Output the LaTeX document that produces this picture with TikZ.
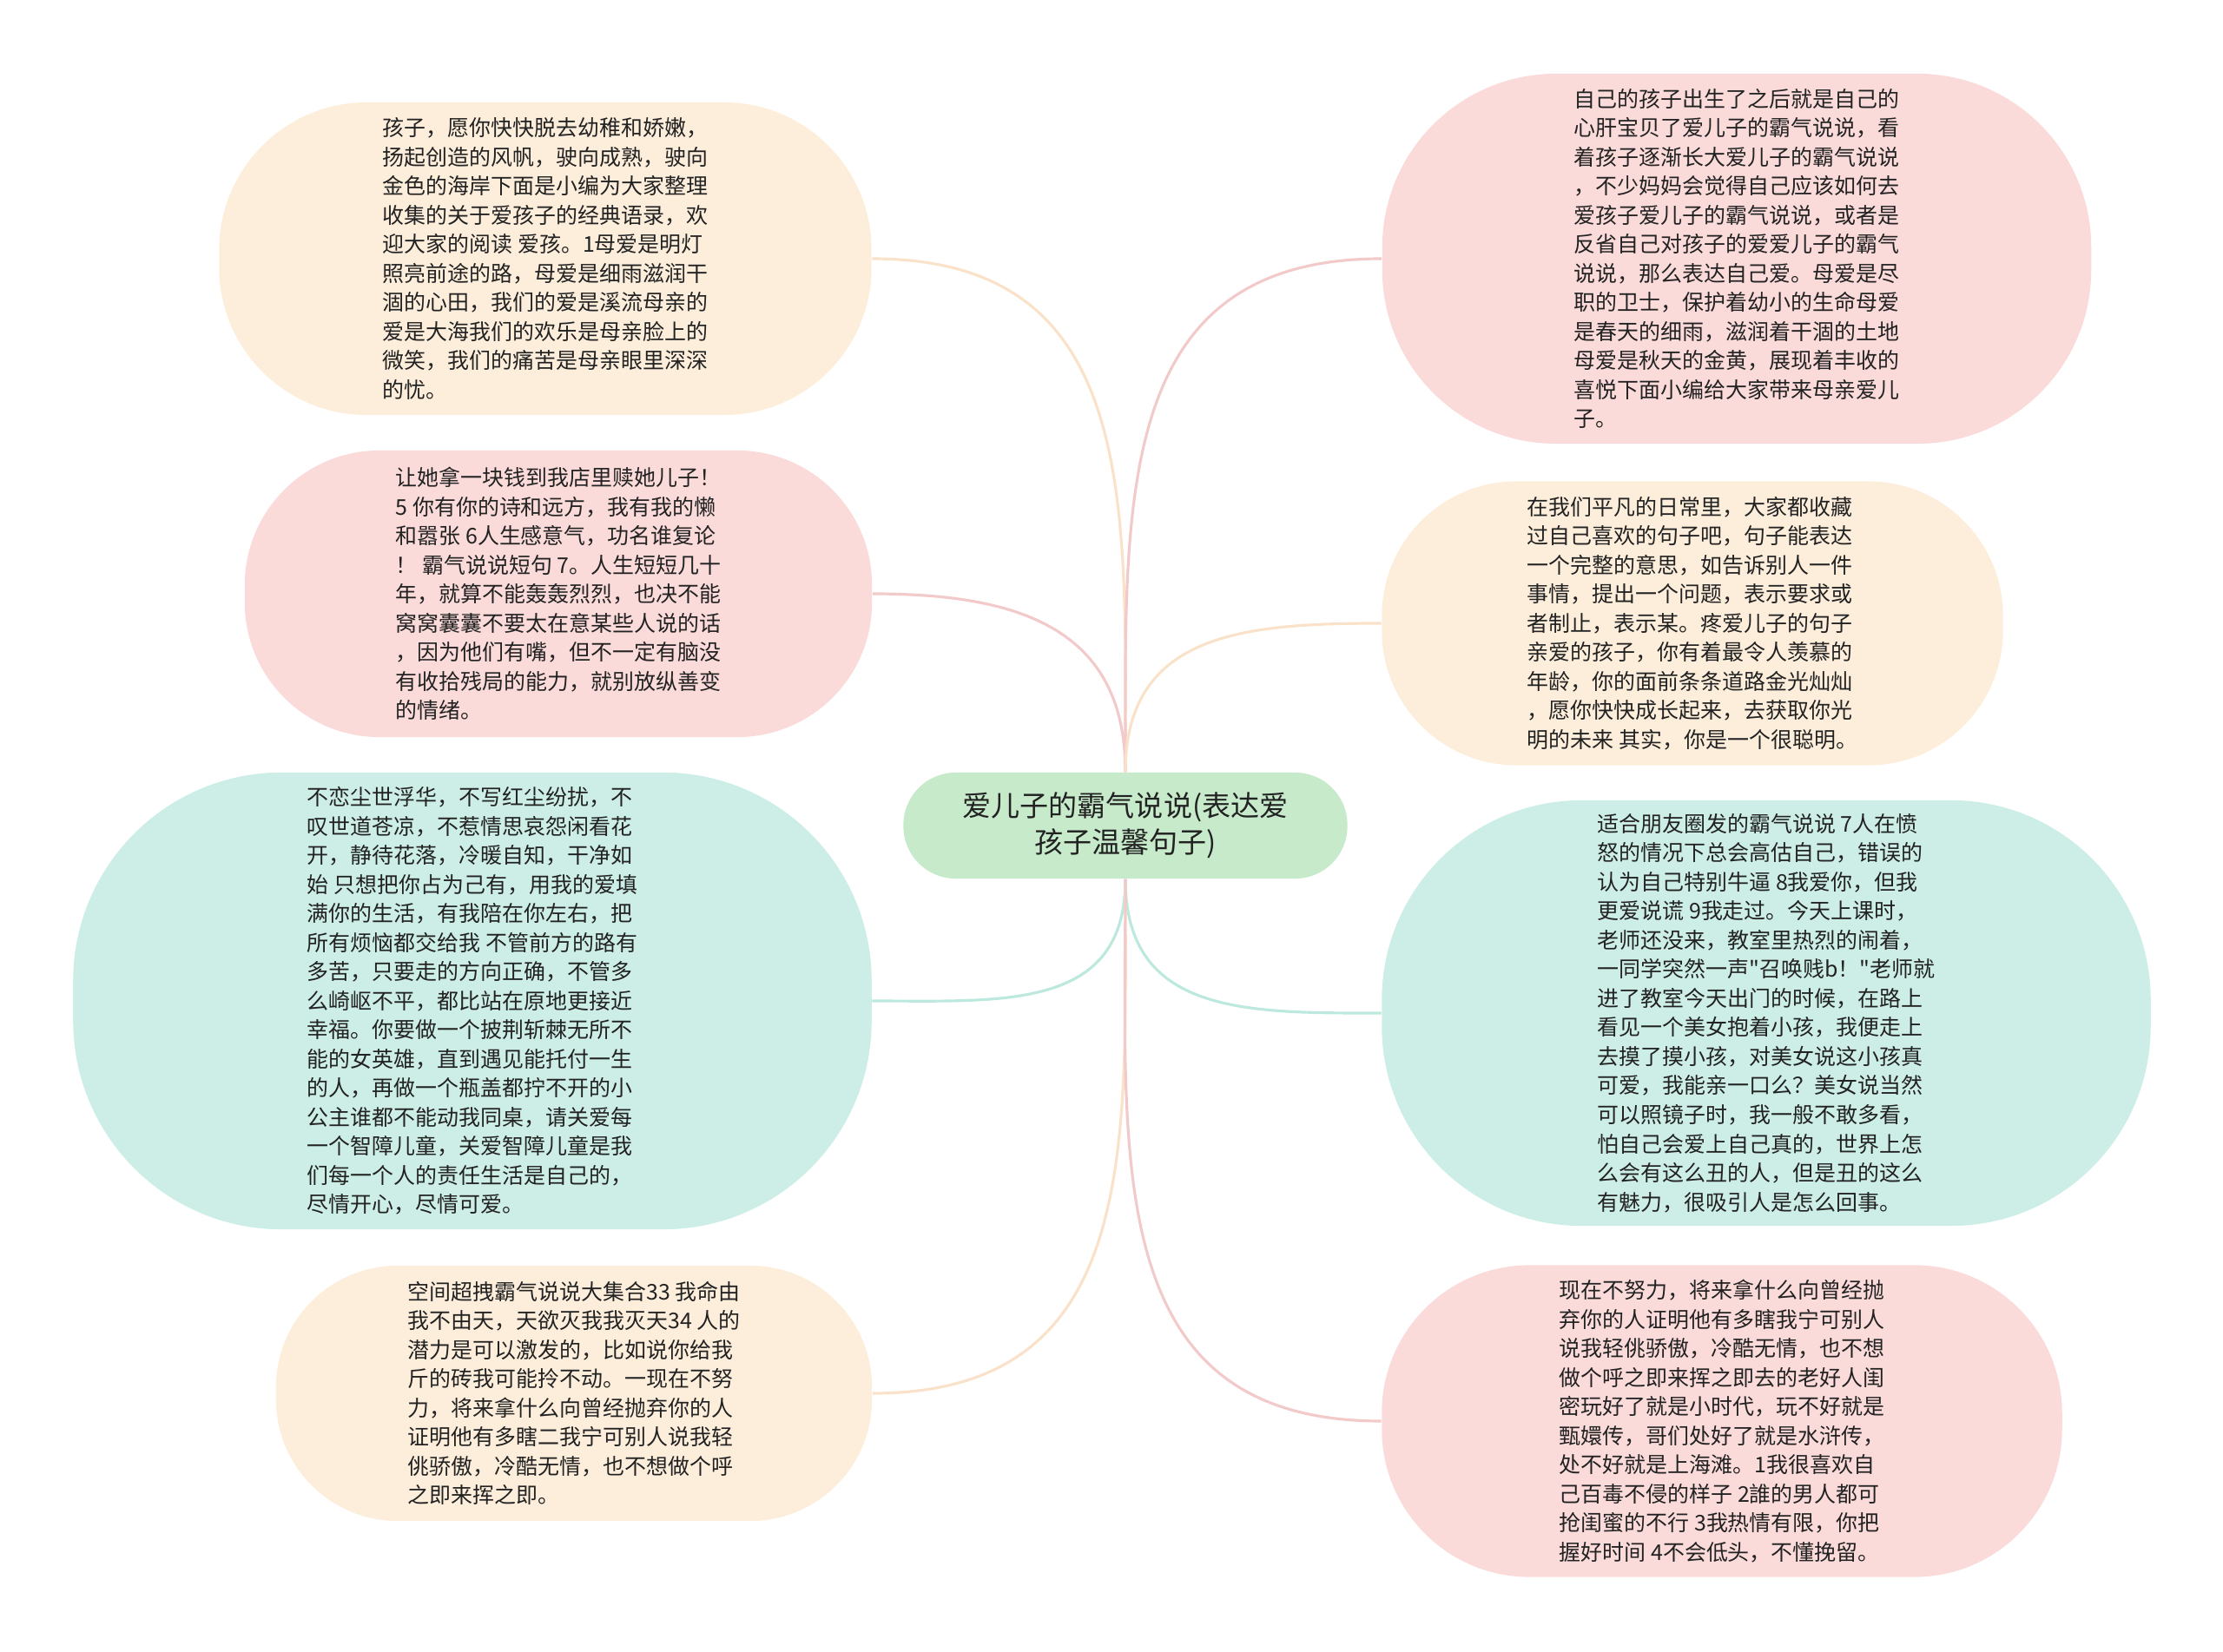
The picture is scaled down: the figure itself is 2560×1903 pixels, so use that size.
\documentclass[tikz,border=0pt]{standalone}
\usepackage{fontspec}
\setmainfont{Noto Sans CJK SC}[Ligatures=TeXOff]
\usetikzlibrary{positioning}
\definecolor{peach}{HTML}{FDEEDC}
\definecolor{pink}{HTML}{FADBDA}
\definecolor{teal}{HTML}{CDEEE6}
\definecolor{mint}{HTML}{C6EACA}
\definecolor{peachln}{HTML}{F9E2C9}
\definecolor{pinkln}{HTML}{F2CACA}
\definecolor{tealln}{HTML}{BCE8DD}
\definecolor{ink}{HTML}{222222}
\newcommand\bodysize{\fontsize{7.1pt}{9.53pt}\selectfont}
\newcommand\topicsize{\fontsize{9.4pt}{12.1pt}\selectfont}

\begin{document}
\begin{tikzpicture}[x=0.01cm, y=-0.01cm, every node/.style={text=ink,align=left,inner sep=2pt}, bubble/.style={font=\bodysize}, topic/.style={font=\topicsize,align=center,fill=mint,rounded corners=0.6cm,minimum width=5.11cm,minimum height=1.22cm}, link/.style={line width=0.9pt}]
\useasboundingbox (0,0) rectangle (2560,1903);
\node[topic] (root) at (1296,951) {爱儿子的霸气说说(表达爱\\孩子温馨句子)};
% left side
\node[bubble,fill=peach,rounded corners=1.7cm,minimum width=7.51cm,minimum height=3.6cm] (wish) at (628,298) {孩子，愿你快快脱去幼稚和娇嫩，\\扬起创造的风帆，驶向成熟，驶向\\金色的海岸下面是小编为大家整理\\收集的关于爱孩子的经典语录，欢\\迎大家的阅读 爱孩。1母爱是明灯\\照亮前途的路，母爱是细雨滋润干\\涸的心田，我们的爱是溪流母亲的\\爱是大海我们的欢乐是母亲脸上的\\微笑，我们的痛苦是母亲眼里深深\\的忧。};
\node[bubble,fill=pink,rounded corners=1.55cm,minimum width=7.22cm,minimum height=3.3cm] (ransom) at (643,684) {让她拿一块钱到我店里赎她儿子！\\5 你有你的诗和远方，我有我的懒\\和嚣张 6人生感意气，功名谁复论\\！ 霸气说说短句 7。人生短短几十\\年，就算不能轰轰烈烈，也决不能\\窝窝囊囊不要太在意某些人说的话\\，因为他们有嘴，但不一定有脑没\\有收拾残局的能力，就别放纵善变\\的情绪。};
\node[bubble,fill=teal,rounded corners=2.4cm,minimum width=9.19cm,minimum height=5.26cm] (world) at (544,1153) {不恋尘世浮华，不写红尘纷扰，不\\叹世道苍凉，不惹情思哀怨闲看花\\开，静待花落，冷暖自知，干净如\\始 只想把你占为己有，用我的爱填\\满你的生活，有我陪在你左右，把\\所有烦恼都交给我 不管前方的路有\\多苦，只要走的方向正确，不管多\\么崎岖不平，都比站在原地更接近\\幸福。你要做一个披荆斩棘无所不\\能的女英雄，直到遇见能托付一生\\的人，再做一个瓶盖都拧不开的小\\公主谁都不能动我同桌，请关爱每\\一个智障儿童，关爱智障儿童是我\\们每一个人的责任生活是自己的，\\尽情开心，尽情可爱。};
\node[bubble,fill=peach,rounded corners=1.4cm,minimum width=6.86cm,minimum height=2.94cm] (space) at (661,1605) {空间超拽霸气说说大集合33 我命由\\我不由天，天欲灭我我灭天34 人的\\潜力是可以激发的，比如说你给我\\斤的砖我可能拎不动。一现在不努\\力，将来拿什么向曾经抛弃你的人\\证明他有多瞎二我宁可别人说我轻\\佻骄傲，冷酷无情，也不想做个呼\\之即来挥之即。};
% right side
\node[bubble,fill=pink,rounded corners=2cm,minimum width=8.16cm,minimum height=4.26cm] (born) at (2000,298) {自己的孩子出生了之后就是自己的\\心肝宝贝了爱儿子的霸气说说，看\\着孩子逐渐长大爱儿子的霸气说说\\，不少妈妈会觉得自己应该如何去\\爱孩子爱儿子的霸气说说，或者是\\反省自己对孩子的爱爱儿子的霸气\\说说，那么表达自己爱。母爱是尽\\职的卫士，保护着幼小的生命母爱\\是春天的细雨，滋润着干涸的土地\\母爱是秋天的金黄，展现着丰收的\\喜悦下面小编给大家带来母亲爱儿\\子。};
\node[bubble,fill=peach,rounded corners=1.55cm,minimum width=7.15cm,minimum height=3.27cm] (daily) at (1949,718) {在我们平凡的日常里，大家都收藏\\过自己喜欢的句子吧，句子能表达\\一个完整的意思，如告诉别人一件\\事情，提出一个问题，表示要求或\\者制止，表示某。疼爱儿子的句子\\亲爱的孩子，你有着最令人羡慕的\\年龄，你的面前条条道路金光灿灿\\，愿你快快成长起来，去获取你光\\明的未来 其实，你是一个很聪明。};
\node[bubble,fill=teal,rounded corners=2.3cm,minimum width=8.85cm,minimum height=4.9cm] (moments) at (2034,1167) {适合朋友圈发的霸气说说 7人在愤\\怒的情况下总会高估自己，错误的\\认为自己特别牛逼 8我爱你，但我\\更爱说谎 9我走过。今天上课时，\\老师还没来，教室里热烈的闹着，\\一同学突然一声"召唤贱b！"老师就\\进了教室今天出门的时候，在路上\\看见一个美女抱着小孩，我便走上\\去摸了摸小孩，对美女说这小孩真\\可爱，我能亲一口么？美女说当然\\可以照镜子时，我一般不敢多看，\\怕自己会爱上自己真的，世界上怎\\么会有这么丑的人，但是丑的这么\\有魅力，很吸引人是怎么回事。};
\node[bubble,fill=pink,rounded corners=1.7cm,minimum width=7.83cm,minimum height=3.59cm] (effort) at (1983,1637) {现在不努力，将来拿什么向曾经抛\\弃你的人证明他有多瞎我宁可别人\\说我轻佻骄傲，冷酷无情，也不想\\做个呼之即来挥之即去的老好人闺\\密玩好了就是小时代，玩不好就是\\甄嬛传，哥们处好了就是水浒传，\\处不好就是上海滩。1我很喜欢自\\己百毒不侵的样子 2誰的男人都可\\抢闺蜜的不行 3我热情有限，你把\\握好时间 4不会低头，不懂挽留。};
% links
\draw[link,draw=peachln] (root.north) to[out=90,in=0,looseness=1.2] (wish.east); \draw[link,draw=pinkln] (root.north) to[out=90,in=0,looseness=1.2] (ransom.east);
\draw[link,draw=tealln] (root.south) to[out=-90,in=0,looseness=1.2] (world.east); \draw[link,draw=peachln] (root.south) to[out=-90,in=0,looseness=1.2] (space.east);
\draw[link,draw=pinkln] (root.north) to[out=90,in=180,looseness=1.2] (born.west); \draw[link,draw=peachln] (root.north) to[out=90,in=180,looseness=1.2] (daily.west);
\draw[link,draw=tealln] (root.south) to[out=-90,in=180,looseness=1.2] (moments.west); \draw[link,draw=pinkln] (root.south) to[out=-90,in=180,looseness=1.2] (effort.west);
\end{tikzpicture}
\end{document}
